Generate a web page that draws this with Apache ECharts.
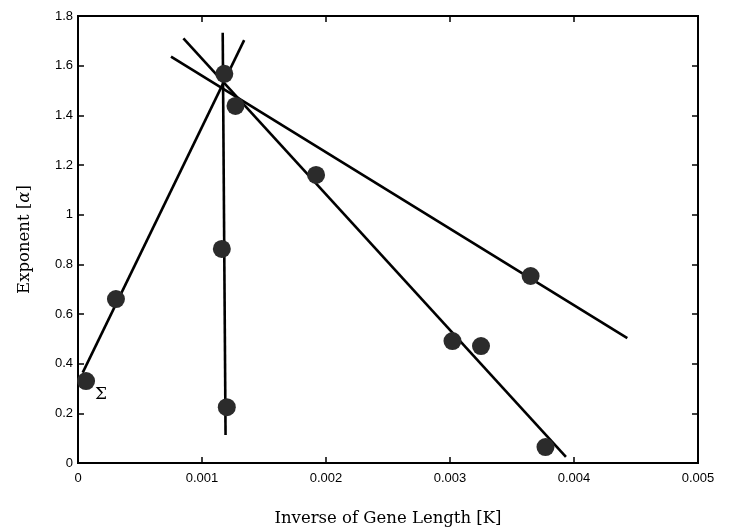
<!DOCTYPE html>
<html>
<head>
<meta charset="utf-8">
<script src="https://cdn.jsdelivr.net/npm/echarts@6/dist/echarts.min.js"></script>
<style>html,body{margin:0;padding:0;background:#fff}#c{width:730px;height:528px}</style>
</head>
<body>
<div id="c"></div>
<script>
const xTicks = [0, 0.001, 0.002, 0.003, 0.004, 0.005];
const yTicks = [0, 0.2, 0.4, 0.6, 0.8, 1, 1.2, 1.4, 1.6, 1.8];

const pointsX = [0.000065, 0.000306, 0.00116, 0.0012, 0.00118, 0.00127, 0.00192, 0.00302, 0.00325, 0.00365, 0.00377];
const pointsY = [0.33, 0.66, 0.862, 0.225, 1.567, 1.438, 1.16, 0.491, 0.471, 0.753, 0.064];
const pointLabels = ['Σ', '', '', '', '', '', '', '', '', '', ''];

const lineRiseX = [0.000038, 0.00134];
const lineRiseY = [0.364, 1.703];
const lineVertX = [0.001167, 0.00119];
const lineVertY = [1.733, 0.113];
const lineSteepX = [0.00085, 0.003935];
const lineSteepY = [1.71, 0.025];
const lineShallowX = [0.00075, 0.00443];
const lineShallowY = [1.636, 0.503];

const zip = (a, b) => a.map((v, i) => [v, b[i]]);
const lineSeries = (xs, ys) => ({
  type: 'line', data: zip(xs, ys), showSymbol: false, symbol: 'none',
  lineStyle: {color: '#000', width: 2.6}, z: 2, animation: false
});

const chart = echarts.init(document.getElementById('c'));
const tickFont = () => ({color: '#000', fontSize: 13, fontFamily: 'Liberation Sans, Arial, sans-serif'});
const tickStyle = () => ({show: true, inside: true, length: 6, lineStyle: {color: '#000', width: 1.5}});
chart.setOption({
  animation: false,
  grid: {left: 78, right: 32, top: 16, bottom: 65, outerBoundsMode: 'none', containLabel: false,
    show: true, borderColor: '#000', borderWidth: 2, backgroundColor: 'transparent'},
  xAxis: [{
    type: 'value', min: 0, max: 0.005, interval: 0.001,
    axisLine: {show: true, onZero: false, lineStyle: {color: '#000', width: 2}},
    axisTick: {show: false},
    axisLabel: Object.assign({margin: 9, formatter: v => String(+v.toFixed(3))}, tickFont()),
    splitLine: {show: false},
    name: 'Inverse of Gene Length [K]', nameLocation: 'middle', nameGap: 47,
    nameTextStyle: {color: '#000', fontSize: 16.5, fontFamily: 'DejaVu Serif, Liberation Serif, serif'}
  }, {
    type: 'value', position: 'top', min: 0, max: 0.005, interval: 0.001,
    axisLine: {show: true, onZero: false, lineStyle: {color: '#000', width: 2}},
    axisTick: tickStyle(),
    axisLabel: {show: false}, splitLine: {show: false}
  }, {
    type: 'value', position: 'bottom', min: 0, max: 0.005, interval: 0.001,
    axisLine: {show: false}, axisTick: tickStyle(),
    axisLabel: {show: false}, splitLine: {show: false}
  }],
  yAxis: [{
    type: 'value', min: 0, max: 1.8, interval: 0.2,
    axisLine: {show: true, onZero: false, lineStyle: {color: '#000', width: 2}},
    axisTick: {show: false},
    axisLabel: Object.assign({margin: 5, formatter: v => String(+v.toFixed(1))}, tickFont()),
    splitLine: {show: false},
    name: 'Exponent [{a|α}]', nameLocation: 'middle', nameGap: 45, nameRotate: 90,
    nameTextStyle: {color: '#000', fontSize: 16.5, fontFamily: 'DejaVu Serif, Liberation Serif, serif',
      rich: {a: {fontSize: 16.5, fontStyle: 'italic', fontFamily: 'DejaVu Serif, Liberation Serif, serif', color: '#000'}}}
  }, {
    type: 'value', position: 'right', min: 0, max: 1.8, interval: 0.2,
    axisLine: {show: true, onZero: false, lineStyle: {color: '#000', width: 2}},
    axisTick: tickStyle(),
    axisLabel: {show: false}, splitLine: {show: false}
  }, {
    type: 'value', position: 'left', min: 0, max: 1.8, interval: 0.2,
    axisLine: {show: false}, axisTick: tickStyle(),
    axisLabel: {show: false}, splitLine: {show: false}
  }],
  series: [
    lineSeries(lineRiseX, lineRiseY),
    lineSeries(lineVertX, lineVertY),
    lineSeries(lineSteepX, lineSteepY),
    lineSeries(lineShallowX, lineShallowY),
    {
      type: 'scatter', data: zip(pointsX, pointsY).map((p, i) => ({value: p, name: pointLabels[i]})),
      symbol: 'circle', symbolSize: 18, z: 3,
      itemStyle: {color: '#2b2b2b', opacity: 1},
      label: {show: true, position: [18, 14], formatter: p => p.name, color: '#000', fontSize: 17,
        fontFamily: 'DejaVu Serif, Liberation Serif, serif'}
    },
    {type: 'scatter', xAxisIndex: 1, yAxisIndex: 1, data: [], silent: true},
    {type: 'scatter', xAxisIndex: 2, yAxisIndex: 2, data: [], silent: true}
  ]
});
</script>
</body>
</html>
